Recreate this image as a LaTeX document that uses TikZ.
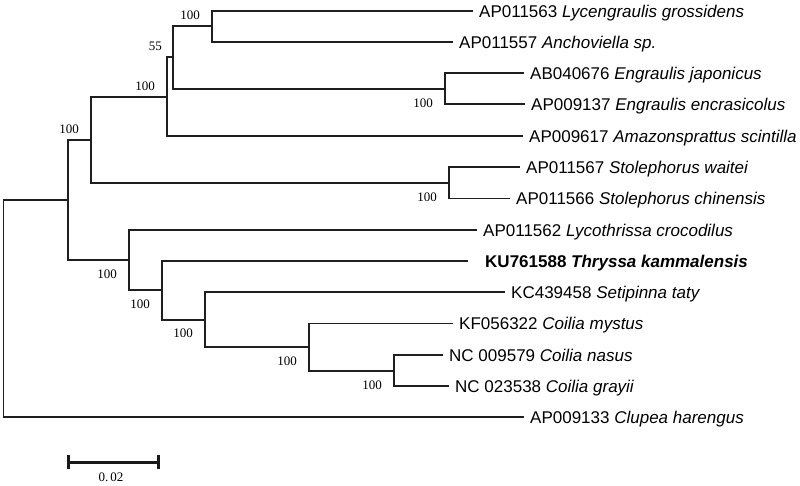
\documentclass[tikz,border=0pt]{standalone}
\usepackage{fontspec}
\setmainfont{Liberation Sans}
\newfontfamily\serifnum{Liberation Serif}
\begin{document}
\begin{tikzpicture}[x=1pt,y=-1pt,
  br/.style={line width=1.3pt, draw=black!88},
  leaf/.style={anchor=base west, inner sep=0pt, font=\fontsize{17}{20}\selectfont},
  bsup/.style={anchor=east, inner sep=0pt, font=\serifnum\fontsize{13}{15}\selectfont},
  scalebar/.style={line width=3pt, draw=black!90}
]
\useasboundingbox (0,0) rectangle (800,485);
% internal nodes
\coordinate (R) at (3.5,308.5);
\coordinate (A) at (68,200);
\coordinate (B) at (91,140);
\coordinate (C) at (167,97);
\coordinate (D) at (173,57);
\coordinate (E) at (212,26);
\coordinate (F) at (445,89);
\coordinate (G) at (449,183);
\coordinate (H) at (129,260);
\coordinate (I) at (162,290);
\coordinate (J) at (205,320);
\coordinate (K) at (309,347);
\coordinate (L) at (394,371);
% leaf ends
\coordinate (l1) at (473,11);
\coordinate (l2) at (453,42);
\coordinate (l3) at (524,73);
\coordinate (l4) at (525,104);
\coordinate (l5) at (523,136);
\coordinate (l6) at (520,167);
\coordinate (l7) at (510,198.5);
\coordinate (l8) at (477,230);
\coordinate (l9) at (468,261);
\coordinate (l10) at (505,292);
\coordinate (l11) at (453,323.5);
\coordinate (l12) at (443,355);
\coordinate (l13) at (449,386);
\coordinate (l14) at (524,417);
% branches
\draw[br] (R) |- (A);  \draw[br] (R) |- (l14);
\draw[br] (A) |- (B);  \draw[br] (A) |- (H);
\draw[br] (B) |- (C);  \draw[br] (B) |- (G);
\draw[br] (C) |- (D);  \draw[br] (C) |- (l5);
\draw[br] (D) |- (E);  \draw[br] (D) |- (F);
\draw[br] (E) |- (l1); \draw[br] (E) |- (l2);
\draw[br] (F) |- (l3); \draw[br] (F) |- (l4);
\draw[br] (G) |- (l6); \draw[br] (G) |- (l7);
\draw[br] (H) |- (l8); \draw[br] (H) |- (I);
\draw[br] (I) |- (l9); \draw[br] (I) |- (J);
\draw[br] (J) |- (l10);\draw[br] (J) |- (K);
\draw[br] (K) |- (l11);\draw[br] (K) |- (L);
\draw[br] (L) |- (l12);\draw[br] (L) |- (l13);
% leaf labels
\node[leaf] (t1) at (479,17) {AP011563 \textit{Lycengraulis grossidens}};
\node[leaf] (t2) at (459,48) {AP011557 \textit{Anchoviella sp.}};
\node[leaf] (t3) at (530,79) {AB040676 \textit{Engraulis japonicus}};
\node[leaf] (t4) at (531,110) {AP009137 \textit{Engraulis encrasicolus}};
\node[leaf] (t5) at (529,142) {AP009617 \textit{Amazonsprattus scintilla}};
\node[leaf] (t6) at (526,173) {AP011567 \textit{Stolephorus waitei}};
\node[leaf] (t7) at (516,204.5) {AP011566 \textit{Stolephorus chinensis}};
\node[leaf] (t8) at (483,236) {AP011562 \textit{Lycothrissa crocodilus}};
\node[leaf] (t9) at (485,267) {\textbf{KU761588 \textit{Thryssa kammalensis}}};
\node[leaf] (t10) at (511,298) {KC439458 \textit{Setipinna taty}};
\node[leaf] (t11) at (459,329.5) {KF056322 \textit{Coilia mystus}};
\node[leaf] (t12) at (449,361) {NC 009579 \textit{Coilia nasus}};
\node[leaf] (t13) at (455,392) {NC 023538 \textit{Coilia grayii}};
\node[leaf] (t14) at (530,423) {AP009133 \textit{Clupea harengus}};
% bootstrap values
\node[bsup] (sE) at (200,15) {100};
\node[bsup] (sD) at (162,46) {55};
\node[bsup] (sC) at (155,86) {100};
\node[bsup] (sB) at (79,129) {100};
\node[bsup] (sF) at (433,103) {100};
\node[bsup] (sG) at (437,197) {100};
\node[bsup] (sH) at (117,274) {100};
\node[bsup] (sI) at (150,304) {100};
\node[bsup] (sJ) at (193,333) {100};
\node[bsup] (sK) at (297,361) {100};
\node[bsup] (sL) at (382,385) {100};
% scale bar
\coordinate (sb1) at (68,462);
\coordinate (sb2) at (158,462);
\coordinate (sb1t) at (68,455);
\coordinate (sb1b) at (68,469);
\coordinate (sb2t) at (158,455);
\coordinate (sb2b) at (158,469);
\draw[scalebar] (sb1) -- (sb2);
\draw[scalebar] (sb1t) -- (sb1b);
\draw[scalebar] (sb2t) -- (sb2b);
\node[inner sep=0pt, font=\serifnum\fontsize{13}{15}\selectfont] (sbl) at (111,477) {0.\,02};
\end{tikzpicture}
\end{document}
